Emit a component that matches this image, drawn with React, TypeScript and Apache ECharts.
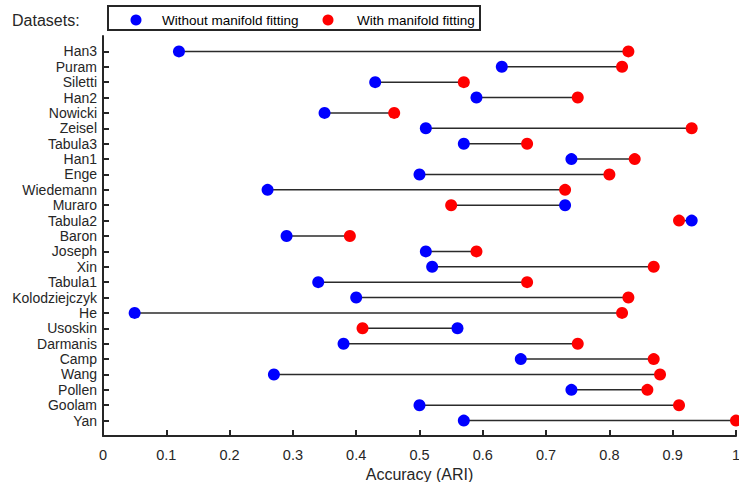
import React, { useEffect, useRef } from "react";
import * as echarts from "echarts";

const datasets = [
  "Han3", "Puram", "Siletti", "Han2", "Nowicki", "Zeisel", "Tabula3", "Han1",
  "Enge", "Wiedemann", "Muraro", "Tabula2", "Baron", "Joseph", "Xin", "Tabula1",
  "Kolodziejczyk", "He", "Usoskin", "Darmanis", "Camp", "Wang", "Pollen", "Goolam", "Yan",
];

const withoutFitting = [
  0.12, 0.63, 0.43, 0.59, 0.35, 0.51, 0.57, 0.74,
  0.50, 0.26, 0.73, 0.93, 0.29, 0.51, 0.52, 0.34,
  0.40, 0.05, 0.56, 0.38, 0.66, 0.27, 0.74, 0.50, 0.57,
];

const withFitting = [
  0.83, 0.82, 0.57, 0.75, 0.46, 0.93, 0.67, 0.84,
  0.80, 0.73, 0.55, 0.91, 0.39, 0.59, 0.87, 0.67,
  0.83, 0.82, 0.41, 0.75, 0.87, 0.88, 0.86, 0.91, 1.00,
];

const xTicks = [0, 0.1, 0.2, 0.3, 0.4, 0.5, 0.6, 0.7, 0.8, 0.9, 1];

const FONT = "'Liberation Sans', Arial, Helvetica, sans-serif";
const AX = "#262626";

export default function App() {
  const ref = useRef<HTMLDivElement>(null);
  useEffect(() => {
    if (!ref.current) return;
    const chart = echarts.init(ref.current, null, { renderer: "svg" });
    const yCats = ["", ...datasets, ""];
    const blueData = withoutFitting.map((v, i) => [v, i + 1]);
    const redData = withFitting.map((v, i) => [v, i + 1]);
    const lineData = datasets.map((_, i) => [withoutFitting[i], withFitting[i], i + 1]);
    chart.setOption({
      animation: false,
      textStyle: { fontFamily: FONT },
      grid: { left: 103, right: 3, top: 36, bottom: 46, outerBoundsMode: "none" },
      xAxis: {
        type: "value",
        min: 0,
        max: 1,
        interval: 0.1,
        name: "Accuracy (ARI)",
        nameLocation: "middle",
        nameGap: 28,
        nameTextStyle: { color: AX, fontSize: 16, fontFamily: FONT },
        axisLine: { show: true, lineStyle: { color: AX, width: 2 } },
        axisTick: { show: true, inside: true, length: 6, lineStyle: { color: AX, width: 2 } },
        axisLabel: {
          color: AX,
          fontSize: 14.5,
          fontFamily: FONT,
          margin: 11,
          formatter: (v: number) => {
            const t = xTicks.find((x) => Math.abs(x - v) < 1e-9);
            return t === undefined ? "" : String(t);
          },
        },
        splitLine: { show: false },
      },
      yAxis: {
        type: "category",
        inverse: true,
        boundaryGap: false,
        data: yCats,
        axisLine: { show: true, lineStyle: { color: AX, width: 2 } },
        axisTick: {
          show: true,
          inside: true,
          length: 6,
          interval: (_i: number, v: string) => v !== "",
          lineStyle: { color: AX, width: 2 },
        },
        axisLabel: { color: AX, fontSize: 14, fontFamily: FONT, margin: 6, interval: 0 },
        splitLine: { show: false },
      },
      graphic: [
        {
          type: "text",
          left: 12,
          top: 12,
          style: { text: "Datasets:", fill: AX, fontSize: 16, fontFamily: FONT },
        },
        {
          type: "rect",
          shape: { x: 108, y: 6, width: 372, height: 24 },
          style: { fill: "#ffffff", stroke: AX, lineWidth: 2 },
          z: 10,
        },
        {
          type: "circle",
          shape: { cx: 136, cy: 20, r: 5.5 },
          style: { fill: "#0000ff" },
          z: 11,
        },
        {
          type: "text",
          x: 162,
          y: 20,
          style: {
            text: "Without manifold fitting",
            fill: "#000000",
            fontSize: 13.5,
            fontFamily: FONT,
            verticalAlign: "middle",
          },
          z: 11,
        },
        {
          type: "circle",
          shape: { cx: 328, cy: 20, r: 5.5 },
          style: { fill: "#ff0000" },
          z: 11,
        },
        {
          type: "text",
          x: 357,
          y: 20,
          style: {
            text: "With manifold fitting",
            fill: "#000000",
            fontSize: 13.5,
            fontFamily: FONT,
            verticalAlign: "middle",
          },
          z: 11,
        },
      ],
      series: [
        {
          type: "custom",
          name: "connector",
          data: lineData,
          encode: { x: [0, 1], y: 2 },
          z: 1,
          renderItem: (_params: any, api: any) => {
            const y = api.value(2);
            const p1 = api.coord([api.value(0), y]);
            const p2 = api.coord([api.value(1), y]);
            return {
              type: "line",
              shape: { x1: p1[0], y1: p1[1], x2: p2[0], y2: p2[1] },
              style: { stroke: "#2b2b2b", lineWidth: 1.5 },
            };
          },
        },
        {
          type: "scatter",
          name: "With manifold fitting",
          data: redData,
          symbol: "circle",
          symbolSize: 12,
          itemStyle: { color: "#ff0000", opacity: 1 },
          z: 3,
          clip: false,
        },
        {
          type: "scatter",
          name: "Without manifold fitting",
          data: blueData,
          symbol: "circle",
          symbolSize: 12,
          itemStyle: { color: "#0000ff", opacity: 1 },
          z: 4,
          clip: false,
        },
      ],
    });
    return () => chart.dispose();
  }, []);
  return (
    <div
      ref={ref}
      style={{ position: "fixed", left: 0, top: 0, width: 739, height: 482, background: "#fff" }}
    />
  );
}
